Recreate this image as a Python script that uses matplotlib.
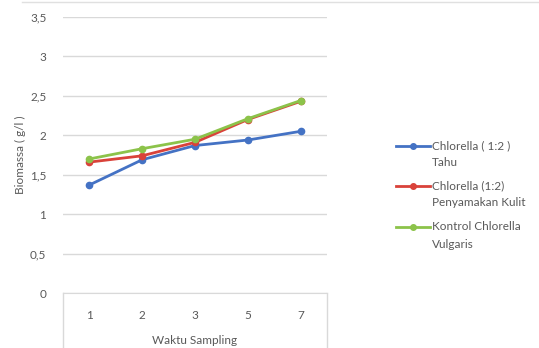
import matplotlib.pyplot as plt
from matplotlib.lines import Line2D

plt.rcParams['font.family'] = ['Lato', 'DejaVu Sans']

waktu = ['1', '2', '3', '5', '7']
tahu = [1.37, 1.69, 1.87, 1.94, 2.05]
kulit = [1.66, 1.74, 1.91, 2.20, 2.43]
kontrol = [1.70, 1.83, 1.95, 2.21, 2.44]
yticks = [0, 0.5, 1, 1.5, 2, 2.5, 3, 3.5]
ylabels = ['0', '0,5', '1', '1,5', '2', '2,5', '3', '3,5']

series = [
    ('Chlorella ( 1:2 )', 'Tahu', tahu, '#4472C4'),
    ('Chlorella (1:2)', 'Penyamakan Kulit', kulit, '#D9423A'),
    ('Kontrol Chlorella', 'Vulgaris', kontrol, '#8CC34A'),
]
txt = '#595959'

W, H = 539, 348
fig = plt.figure(figsize=(W / 100, H / 100), dpi=100)
ax = fig.add_axes([63 / W, (H - 293) / H, 264 / W, 276 / H])

x = list(range(len(waktu)))
for name, name2, vals, col in series:
    ax.plot(x, vals, color=col, lw=2, marker='o', ms=4.5, zorder=3)

ax.set_xlim(-0.5, len(waktu) - 0.5)
ax.set_ylim(0, 3.5)
ax.set_yticks(yticks)
ax.set_yticklabels(ylabels)
ax.set_xticks(x)
ax.set_xticklabels(waktu)
ax.grid(axis='y', color='#D9D9D9', lw=1)
ax.set_axisbelow(True)
for s in ['top', 'right', 'left']:
    ax.spines[s].set_visible(False)
ax.spines['bottom'].set_color('#D9D9D9')
ax.tick_params(axis='x', length=0, pad=12, labelsize=8.5, labelcolor=txt)
ax.tick_params(axis='y', length=0, pad=12, labelsize=8.5, labelcolor=txt)
ax.set_xlabel('Waktu Sampling', fontsize=8.5, color=txt, labelpad=10)
ax.set_ylabel('Biomassa ( g/l )', fontsize=8.5, color=txt, labelpad=3)

# category box under the axis
for xa in [0, 1]:
    ax.plot([xa, xa], [0, -0.2], transform=ax.transAxes, color='#D9D9D9',
            lw=1, clip_on=False)

# top border line of the cropped image
fig.add_artist(Line2D([0.04, 1], [0.994, 0.994], color='#E0E0E0', lw=1))

# legend
ly = [146, 186, 227]
for (name, name2, vals, col), yy in zip(series, ly):
    fy = (H - yy) / H
    fig.add_artist(Line2D([396 / W, 430 / W], [fy, fy], color=col, lw=2))
    fig.add_artist(Line2D([413 / W], [fy], color=col, marker='o', ms=4))
    fig.text(432 / W, fy, name, fontsize=8.5, color=txt, va='center')
    fig.text(432 / W, (H - yy - 17) / H, name2, fontsize=8.5, color=txt, va='center')

fig.savefig('out.png', dpi=100)
